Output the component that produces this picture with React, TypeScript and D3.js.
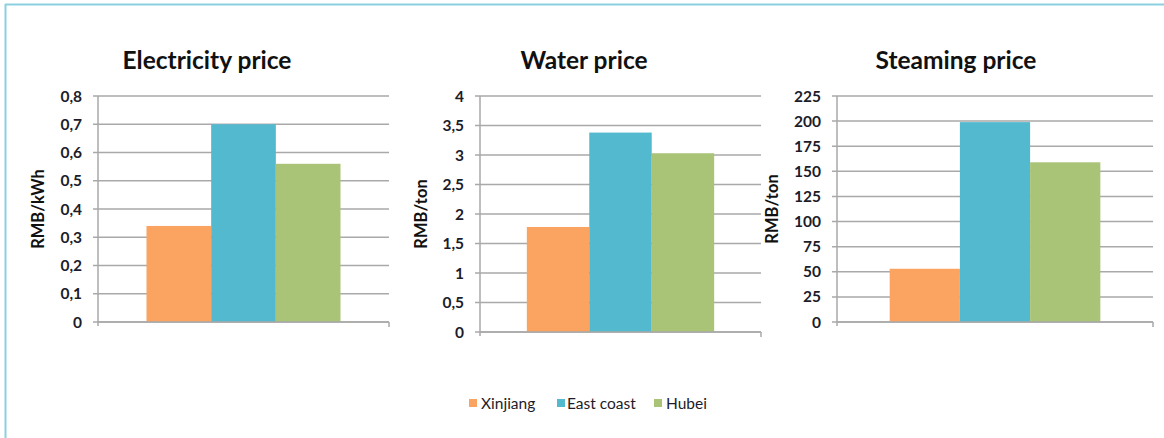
import React from "react";
import * as d3 from "d3";

const categories = ["Xinjiang", "East coast", "Hubei"];
const colors = ["#fba462", "#52b9cf", "#a9c477"];

const electricityValues = [0.34, 0.7, 0.56];
const waterValues = [1.78, 3.38, 3.03];
const steamingValues = [53, 199, 159];

const electricityTicks = [0, 0.1, 0.2, 0.3, 0.4, 0.5, 0.6, 0.7, 0.8];
const waterTicks = [0, 0.5, 1, 1.5, 2, 2.5, 3, 3.5, 4];
const steamingTicks = [0, 25, 50, 75, 100, 125, 150, 175, 200, 225];

const commaLocale = d3.formatLocale({
  decimal: ",",
  thousands: ".",
  grouping: [3],
  currency: ["", ""],
});
const fmt = commaLocale.format("~g");

const FONT = "Lato, 'Open Sans', sans-serif";
const TEXT = "#1c1c2a";
const GRID = "#a9a9a9";

type PanelProps = {
  title: string;
  unit: string;
  values: number[];
  ticks: number[];
  left: number;
  right: number;
  top: number;
  bottom: number;
  titleX: number;
  unitX: number;
};

function Panel(p: PanelProps) {
  const y = d3
    .scaleLinear()
    .domain([0, p.ticks[p.ticks.length - 1]])
    .range([p.bottom, p.top]);
  const w = p.right - p.left;
  const x = d3
    .scaleBand<string>()
    .domain(categories)
    .range([p.left + w / 6, p.right - w / 6])
    .padding(0);

  return (
    <g>
      <text
        x={p.titleX}
        y={69}
        textAnchor="middle"
        fontFamily={FONT}
        fontWeight="bold"
        fontSize={24.5}
        fill="#111"
      >
        {p.title}
      </text>
      {/* gridlines and tick labels */}
      {p.ticks.map((t) => (
        <g key={t}>
          <line
            x1={p.left - 5}
            x2={p.right}
            y1={y(t)}
            y2={y(t)}
            stroke={GRID}
            strokeWidth={1.5}
          />
          <text
            x={p.left - 16}
            y={y(t)}
            dy="0.36em"
            textAnchor="end"
            fontFamily={FONT}
            fontWeight="bold"
            fontSize={15.5}
            fill={TEXT}
          >
            {fmt(t)}
          </text>
        </g>
      ))}
      {categories.map((c, i) => (
        <rect
          key={c}
          x={x(c)}
          y={y(p.values[i])}
          width={x.bandwidth()}
          height={p.bottom - y(p.values[i])}
          fill={colors[i]}
        />
      ))}
      {/* axes */}
      <line
        x1={p.left}
        x2={p.left}
        y1={p.top}
        y2={p.bottom + 4}
        stroke={GRID}
        strokeWidth={1.5}
      />
      <line
        x1={p.left}
        x2={p.right}
        y1={p.bottom}
        y2={p.bottom}
        stroke={GRID}
        strokeWidth={1.5}
      />
      <line
        x1={p.right}
        x2={p.right}
        y1={p.bottom}
        y2={p.bottom + 5}
        stroke={GRID}
        strokeWidth={1.5}
      />
      <text
        transform={`translate(${p.unitX},${(p.top + p.bottom) / 2}) rotate(-90)`}
        textAnchor="middle"
        dy="0.35em"
        fontFamily={FONT}
        fontWeight="bold"
        fontSize={16.5}
        fill="#111"
      >
        {p.unit}
      </text>
    </g>
  );
}

export default function App() {
  const swatchX = [469, 557, 654];
  const labelX = [481, 567, 666];
  return (
    <svg width={1164} height={438} style={{ display: "block", position: "absolute", left: 0, top: 0 }}>
      <rect width={1164} height={438} fill="#fff" />
      <line x1={5} x2={1164} y1={4.5} y2={4.5} stroke="#8ccfdf" strokeWidth={2} />
      <line x1={5.5} x2={5.5} y1={4} y2={438} stroke="#8ccfdf" strokeWidth={2} />
      <Panel
        title="Electricity price"
        unit="RMB/kWh"
        values={electricityValues}
        ticks={electricityTicks}
        left={98}
        right={389}
        top={96}
        bottom={322}
        titleX={207}
        unitX={38}
      />
      <Panel
        title="Water price"
        unit="RMB/ton"
        values={waterValues}
        ticks={waterTicks}
        left={480}
        right={761}
        top={96}
        bottom={332}
        titleX={584}
        unitX={421.5}
      />
      <Panel
        title="Steaming price"
        unit="RMB/ton"
        values={steamingValues}
        ticks={steamingTicks}
        left={837}
        right={1153}
        top={96}
        bottom={322}
        titleX={956}
        unitX={772.5}
      />
      {categories.map((c, i) => (
        <g key={c}>
          <rect x={swatchX[i]} y={399} width={8} height={8} fill={colors[i]} />
          <text
            x={labelX[i]}
            y={409}
            fontFamily={FONT}
            fontSize={15.5}
            fill={TEXT}
          >
            {c}
          </text>
        </g>
      ))}
    </svg>
  );
}
